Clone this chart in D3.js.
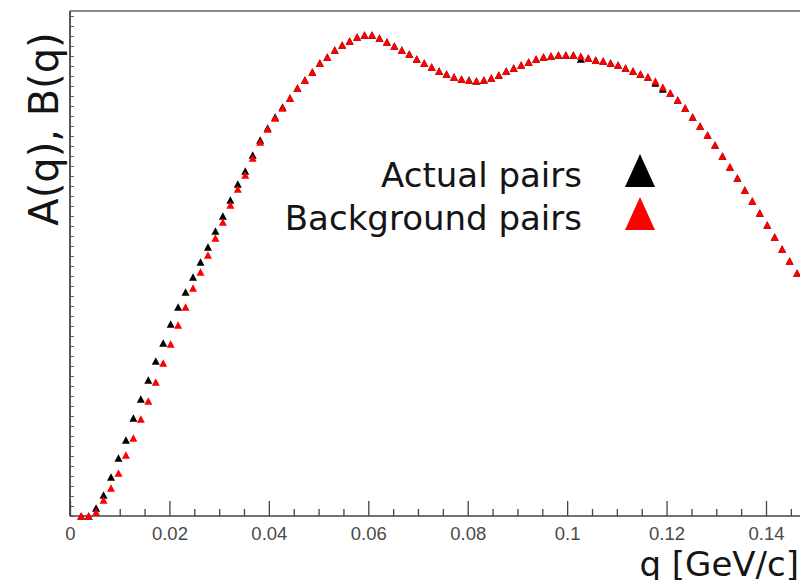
<!DOCTYPE html>
<html>
<head>
<meta charset="utf-8">
<script src="https://cdn.jsdelivr.net/npm/d3@7"></script>
<style>
  body { margin: 0; background: #ffffff; }
  svg { display: block; }
</style>
</head>
<body>
<svg id="chart" width="800" height="580"></svg>
<script>
// Histogram binning in q [GeV/c]; the first filled bin is bin 1
const binWidth = 0.0015;
const firstBin = 1;

// A(q): actual pairs, one value per bin (arbitrary units)
const actualPairs = [
  0.00, 0.00, 0.08, 0.21, 0.39, 0.58, 0.76, 0.98, 1.17, 1.36,
  1.55, 1.73, 1.92, 2.09, 2.24, 2.39, 2.54, 2.69, 2.85, 3.00,
  3.16, 3.32, 3.45, 3.61, 3.76, 3.88, 3.99, 4.09, 4.18, 4.28,
  4.36, 4.44, 4.53, 4.59, 4.66, 4.71, 4.75, 4.79, 4.81, 4.81,
  4.78, 4.74, 4.70, 4.66, 4.62, 4.57, 4.53, 4.49, 4.45, 4.42,
  4.39, 4.37, 4.36, 4.35, 4.36, 4.38, 4.41, 4.45, 4.48, 4.51,
  4.54, 4.57, 4.59, 4.60, 4.61, 4.61, 4.61, 4.57, 4.58, 4.56,
  4.55, 4.53, 4.51, 4.48, 4.45, 4.42, 4.39, 4.33, 4.27, 4.23,
  4.16, 4.08, 3.99, 3.90, 3.81, 3.71, 3.60, 3.49, 3.38, 3.26,
  3.15, 3.03, 2.91, 2.79, 2.67, 2.55, 2.43
];

// B(q): background (mixed) pairs, one value per bin (arbitrary units)
const backgroundPairs = [
  0.00, 0.00, 0.04, 0.16, 0.28, 0.43, 0.61, 0.78, 0.97, 1.15,
  1.34, 1.53, 1.72, 1.91, 2.09, 2.28, 2.44, 2.61, 2.78, 2.94,
  3.11, 3.27, 3.41, 3.58, 3.74, 3.87, 3.98, 4.08, 4.18, 4.28,
  4.36, 4.44, 4.53, 4.59, 4.66, 4.71, 4.75, 4.79, 4.81, 4.81,
  4.78, 4.74, 4.70, 4.66, 4.62, 4.57, 4.53, 4.49, 4.45, 4.42,
  4.39, 4.37, 4.36, 4.35, 4.36, 4.38, 4.41, 4.45, 4.48, 4.51,
  4.54, 4.57, 4.59, 4.60, 4.61, 4.61, 4.61, 4.60, 4.58, 4.56,
  4.55, 4.53, 4.51, 4.48, 4.45, 4.42, 4.39, 4.35, 4.29, 4.23,
  4.16, 4.08, 3.99, 3.90, 3.81, 3.71, 3.60, 3.49, 3.38, 3.26,
  3.15, 3.03, 2.91, 2.79, 2.67, 2.55, 2.43
];

const xMajorTicks = [0, 0.02, 0.04, 0.06, 0.08, 0.10, 0.12, 0.14];
const xTickLabels = ["0", "0.02", "0.04", "0.06", "0.08", "0.1", "0.12", "0.14"];
const xMinorStep = 0.005;
const yMinorStep = 0.1;

const seriesNames = ["Actual pairs", "Background pairs"];
const seriesColors = ["#000000", "#ff0000"];
const xTitle = "q [GeV/c]";
const yTitle = "A(q), B(q)";

// ---- layout ----
const svg = d3.select("#chart");
const plotLeft = 70, plotRight = 800, plotTop = 11, plotBottom = 516;

const x = d3.scaleLinear().domain([0, 0.14]).range([plotLeft, 766]);
const y = d3.scaleLinear().domain([0, 5.05]).range([plotBottom, plotTop]);

const binCenter = i => (firstBin + i + 0.5) * binWidth;

// frame: top border
svg.append("line")
  .attr("x1", plotLeft).attr("x2", plotRight)
  .attr("y1", plotTop).attr("y2", plotTop)
  .attr("stroke", "#8a8a8a").attr("stroke-width", 2);

// y axis (unlabelled, small inward ticks)
const yTicks = d3.range(0, 5.05 + 1e-9, yMinorStep);
const yAxis = svg.append("g")
  .attr("transform", `translate(${plotLeft},0)`)
  .call(d3.axisLeft(y).tickValues(yTicks).tickSize(-4).tickFormat(""));
yAxis.select(".domain").remove();
yAxis.selectAll(".tick line").attr("stroke", "#666").attr("stroke-width", 1);
svg.append("line")
  .attr("x1", plotLeft).attr("x2", plotLeft)
  .attr("y1", plotTop).attr("y2", plotBottom)
  .attr("stroke", "#555").attr("stroke-width", 2);

// x axis: minor ticks
const xMinor = d3.range(0, 0.1468, xMinorStep)
  .filter(v => Math.abs(v / 0.02 - Math.round(v / 0.02)) > 1e-6);
const gMinor = svg.append("g")
  .attr("transform", `translate(0,${plotBottom})`)
  .call(d3.axisBottom(x).tickValues(xMinor).tickSize(-7).tickFormat(""));
gMinor.select(".domain").remove();
gMinor.selectAll(".tick line").attr("stroke", "#444").attr("stroke-width", 1.3);

// x axis: major ticks and labels
const gMajor = svg.append("g")
  .attr("transform", `translate(0,${plotBottom})`)
  .call(d3.axisBottom(x).tickValues(xMajorTicks).tickSize(-15).tickPadding(11)
    .tickFormat((d, i) => xTickLabels[i]));
gMajor.select(".domain").remove();
gMajor.selectAll(".tick line").attr("stroke", "#444").attr("stroke-width", 1.3);
gMajor.selectAll(".tick text")
  .attr("font-family", "'Liberation Sans', Arial, Helvetica, sans-serif")
  .attr("font-size", 18.5)
  .attr("fill", "#4a4a4a");

svg.append("line")
  .attr("x1", plotLeft).attr("x2", plotRight)
  .attr("y1", plotBottom).attr("y2", plotBottom)
  .attr("stroke", "#444").attr("stroke-width", 1.6);

// triangle marker path centred on (0,0)
function triangle(w, h) {
  return `M${-w / 2},${h / 2}L${w / 2},${h / 2}L0,${-h / 2}Z`;
}

// data markers: actual pairs first, background drawn on top
const series = [actualPairs, backgroundPairs];
series.forEach((vals, s) => {
  svg.append("g")
    .selectAll("path")
    .data(vals)
    .join("path")
    .attr("d", triangle(8, 7.5))
    .attr("transform", (d, i) => `translate(${x(binCenter(i))},${y(d)})`)
    .attr("fill", seriesColors[s]);
});

// axis titles
svg.append("text")
  .attr("transform", "rotate(-90)")
  .attr("x", -129).attr("y", 58)
  .attr("text-anchor", "middle")
  .attr("font-family", "'DejaVu Sans', Verdana, sans-serif")
  .attr("font-size", 40)
  .attr("fill", "#141414")
  .text(yTitle);

svg.append("text")
  .attr("x", 799).attr("y", 576)
  .attr("text-anchor", "end")
  .attr("font-family", "'DejaVu Sans', Verdana, sans-serif")
  .attr("font-size", 34)
  .attr("fill", "#141414")
  .text(xTitle);

// legend
const legendRows = [187, 230];
seriesNames.forEach((name, i) => {
  svg.append("text")
    .attr("x", 582).attr("y", legendRows[i])
    .attr("text-anchor", "end")
    .attr("font-family", "'DejaVu Sans', Verdana, sans-serif")
    .attr("font-size", 34)
    .attr("fill", "#141414")
    .text(name);
  svg.append("path")
    .attr("d", triangle(30, 33))
    .attr("transform", `translate(640,${legendRows[i] - 16.5})`)
    .attr("fill", seriesColors[i]);
});
</script>
</body>
</html>
